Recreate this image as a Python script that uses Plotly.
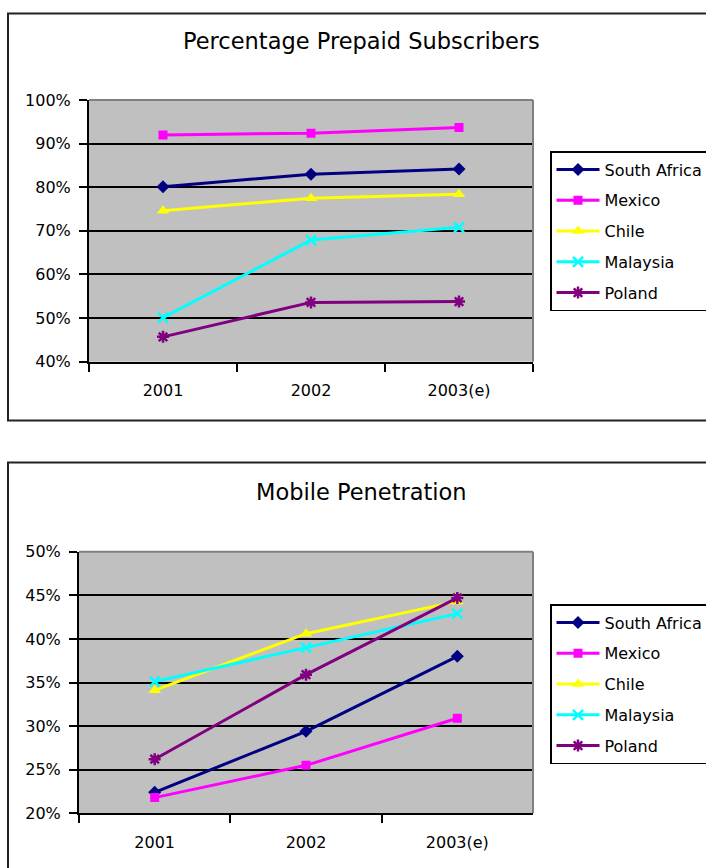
import plotly.graph_objects as go

# Categories and series values (percent)
years = ["2001", "2002", "2003(e)"]
countries = ["South Africa", "Mexico", "Chile", "Malaysia", "Poland"]

prepaid_south_africa = [80.1, 83.0, 84.2]
prepaid_mexico = [92.0, 92.4, 93.7]
prepaid_chile = [74.6, 77.5, 78.4]
prepaid_malaysia = [50.1, 67.9, 70.8]
prepaid_poland = [45.7, 53.6, 53.8]

penetration_south_africa = [22.4, 29.4, 38.0]
penetration_mexico = [21.8, 25.5, 30.9]
penetration_chile = [34.1, 40.6, 44.3]
penetration_malaysia = [35.1, 39.0, 42.9]
penetration_poland = [26.2, 35.9, 44.7]

prepaid_range = [40, 100]
prepaid_step = 10
penetration_range = [20, 50]
penetration_step = 5

prepaid_series = [prepaid_south_africa, prepaid_mexico, prepaid_chile,
                  prepaid_malaysia, prepaid_poland]
penetration_series = [penetration_south_africa, penetration_mexico,
                      penetration_chile, penetration_malaysia, penetration_poland]

# Styling
W, H = 706, 868
FONT = "DejaVu Sans"
colors = ["#000080", "#FF00FF", "#FFFF00", "#00FFFF", "#800080"]
symbols = ["diamond", "square", "triangle-up", "x-thin-open", "asterisk-open"]
msizes = [10, 9, 11, 10, 10]


def px_x(v):
    return v / W


def px_y(v):
    return 1 - v / H


fig = go.Figure()


def add_series(series, xa, ya, legend_name, tag):
    for name, vals, col, sym, ms in zip(countries, series, colors, symbols, msizes):
        open_sym = sym.endswith("-open")
        fig.add_trace(go.Scatter(
            x=years, y=vals, name=name, mode="lines+markers",
            xaxis=xa, yaxis=ya, legend=legend_name,
            legendgroup=tag + name,
            line=dict(color=col, width=3),
            marker=dict(symbol=sym, size=ms, color=col,
                        line=dict(color=col, width=2.5 if open_sym else 0)),
            hoverinfo="skip",
        ))


add_series(prepaid_series, "x", "y", "legend", "pp-")
add_series(penetration_series, "x2", "y2", "legend2", "mp-")

axis_common = dict(showline=True, linecolor="black", linewidth=2,
                   ticks="outside", ticklen=8, tickwidth=1.5, tickcolor="black",
                   tickfont=dict(family=FONT, size=16, color="black"),
                   fixedrange=True)

x_common = dict(type="category", categoryorder="array", categoryarray=years,
                range=[-0.5, 2.5], tickson="boundaries", showgrid=False,
                ticklabelstandoff=13, **axis_common)
y_common = dict(showgrid=True, gridcolor="black", gridwidth=1.5, zeroline=False,
                tickmode="linear", ticksuffix="%", showticksuffix="all",
                ticklabelstandoff=5, **axis_common)

fig.update_layout(
    xaxis=dict(domain=[px_x(89), px_x(533)], anchor="y", **x_common),
    yaxis=dict(domain=[px_y(361.7), px_y(100)], anchor="x",
               range=prepaid_range, tick0=prepaid_range[0], dtick=prepaid_step,
               **y_common),
    xaxis2=dict(domain=[px_x(79), px_x(533)], anchor="y2", **x_common),
    yaxis2=dict(domain=[px_y(813.3), px_y(551.7)], anchor="x2",
                range=penetration_range, tick0=penetration_range[0],
                dtick=penetration_step, **y_common),
)

legend_common = dict(xanchor="left", yanchor="top", bgcolor="white",
                     bordercolor="black", borderwidth=1.5,
                     font=dict(family=FONT, size=16, color="black"),
                     tracegroupgap=7, itemwidth=43, itemclick=False,
                     itemdoubleclick=False)

fig.update_layout(
    width=W, height=H,
    margin=dict(l=0, r=0, t=0, b=0, autoexpand=False),
    paper_bgcolor="white", plot_bgcolor="#C0C0C0",
    font=dict(family=FONT, size=16, color="black"),
    showlegend=True,
    legend=dict(x=px_x(550), y=px_y(151), **legend_common),
    legend2=dict(x=px_x(550), y=px_y(604), **legend_common),
)

# Chart titles
fig.add_annotation(text="Percentage Prepaid Subscribers", xref="paper", yref="paper",
                   x=px_x(362), y=px_y(41), showarrow=False,
                   font=dict(family=FONT, size=22.5, color="black"),
                   xanchor="center", yanchor="middle")
fig.add_annotation(text="Mobile Penetration", xref="paper", yref="paper",
                   x=px_x(361), y=px_y(492), showarrow=False,
                   font=dict(family=FONT, size=22.5, color="black"),
                   xanchor="center", yanchor="middle")

# Outer chart frames
fig.add_shape(type="rect", xref="paper", yref="paper",
              x0=px_x(8), x1=px_x(730), y0=px_y(420.5), y1=px_y(13.5),
              line=dict(color="#222", width=2), layer="below")
fig.add_shape(type="rect", xref="paper", yref="paper",
              x0=px_x(8), x1=px_x(730), y0=px_y(900), y1=px_y(462.5),
              line=dict(color="#222", width=2), layer="below")

# Grey top and right edges of each plot area
for xr, yr in (("x domain", "y domain"), ("x2 domain", "y2 domain")):
    fig.add_shape(type="line", xref=xr, yref=yr, x0=0, x1=1, y0=1, y1=1,
                  line=dict(color="#808080", width=2), layer="above")
    fig.add_shape(type="line", xref=xr, yref=yr, x0=1, x1=1, y0=0, y1=1,
                  line=dict(color="#808080", width=2), layer="above")

fig.write_html("out.html")
